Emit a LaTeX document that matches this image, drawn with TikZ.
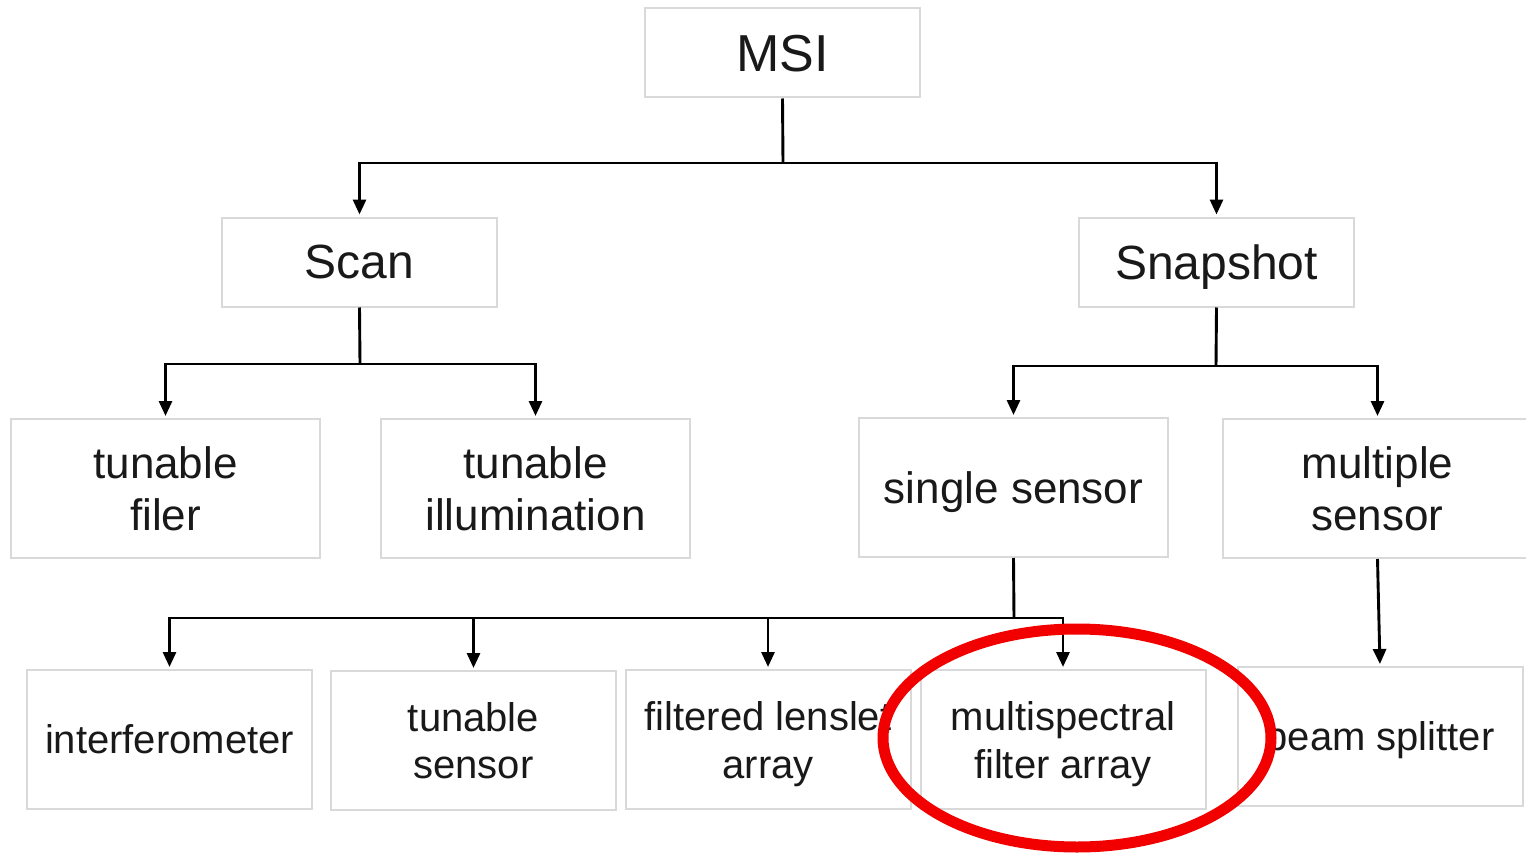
\documentclass[tikz,border=0pt]{standalone}
\usepackage{fontspec}
\setmainfont{Liberation Sans}
\usetikzlibrary{arrows.meta,positioning}
\definecolor{boxgray}{HTML}{D9D9D9}
\definecolor{ringred}{HTML}{F20000}

\begin{document}
\begin{tikzpicture}[x=0.5pt, y=-0.5pt,
  box/.style={draw=boxgray, line width=1pt, fill=white, inner sep=0pt, align=center, text=black!90, text depth=0pt},
  head/.style={box, minimum width=137.5pt, minimum height=44.5pt, font=\fontsize{24}{28}\selectfont},
  mid/.style={box, minimum width=154.5pt, minimum height=69.5pt, font=\fontsize{22}{26}\selectfont},
  leaf/.style={box, minimum width=142.5pt, minimum height=69.5pt, font=\fontsize{20}{24}\selectfont},
  link/.style={line width=1.45pt},
  arrow/.style={link, -{Triangle[length=7.5pt, width=6.5pt]}, shorten >=1pt}]
  \useasboundingbox (0,0) rectangle (1526,856);

  % Root
  \node[head, font=\fontsize{26}{30}\selectfont] (msi) at (782.5,53) {MSI};

  % Scan / Snapshot
  \node[head] (scan) at (359.5,262) {Scan};
  \node[head] (snap) at (1216.5,262) {Snapshot};

  % Second level
  \node[mid] (tfilter) at (165.5,488.5) {tunable\\filer};
  \node[mid] (tillum) at (535.5,488.5) {tunable\\illumination};
  \node[mid] (single) at (1013.5,487.5) {single sensor};
  \node[mid] (multi) at (1377.5,488.5) {multiple\\sensor};

  % Leaves
  \node[leaf] (interf) at (169.5,739.5) {interferometer};
  \node[leaf] (tsensor) at (473.5,740.5) {tunable\\sensor};
  \node[leaf] (lenslet) at (768,739.5) {filtered lenslet\\array};
  \node[leaf] (mfa) at (1063,739.5) {multispectral\\filter array};
  \node[leaf] (beam) at (1380,736.5) {beam splitter};

  % Junctions
  \coordinate (j1) at (783,163);
  \coordinate (j2) at (360,364);
  \coordinate (j3) at (1216,366);
  \coordinate (j4) at (1014,618);

  % Connectors
  \draw[link] (msi.south) -- (j1);
  \draw[arrow] (j1) -| (scan.north);
  \draw[arrow] (j1) -| (snap.north);

  \draw[link] (scan.south) -- (j2);
  \draw[arrow] (j2) -| (tfilter.north);
  \draw[arrow] (j2) -| (tillum.north);

  \draw[link] (snap.south) -- (j3);
  \draw[arrow] (j3) -| (single.north);
  \draw[arrow] (j3) -| (multi.north);

  \draw[link] (single.south) -- (j4);
  \draw[arrow] (j4) -| (interf.north);
  \draw[arrow] (j4) -| (tsensor.north);
  \draw[arrow] (j4) -| (lenslet.north);
  \draw[arrow] (j4) -| (mfa.north);

  \draw[arrow] (multi.south) -- (beam.north);

  % Highlight
  \draw[ringred, line width=5.5pt] (1077,738) ellipse [x radius=97pt, y radius=54.5pt];

\end{tikzpicture}
\end{document}
